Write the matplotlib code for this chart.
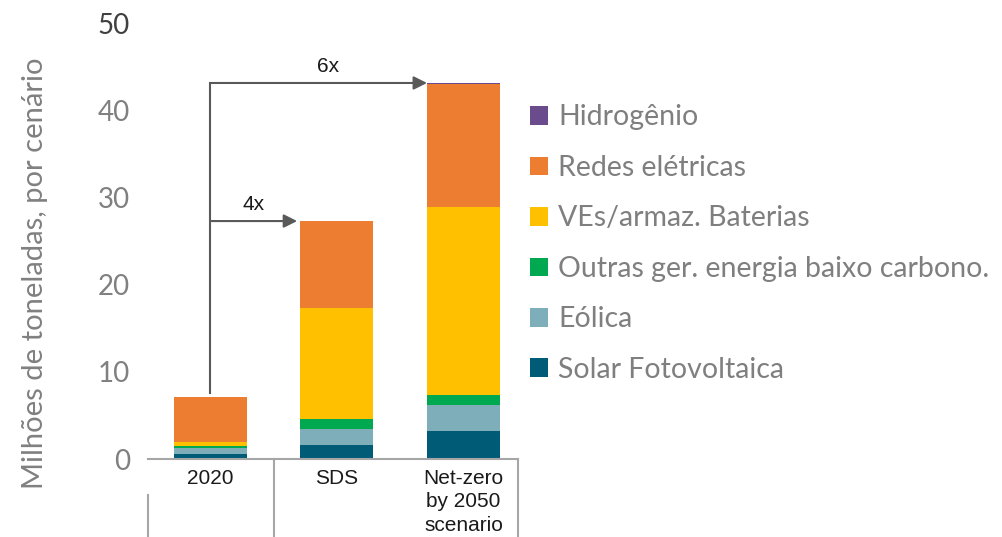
import matplotlib
matplotlib.use("Agg")
import matplotlib.pyplot as plt
from matplotlib.patches import Patch
import numpy as np

# dados (milhões de toneladas)
cenarios = ["2020", "SDS", "Net-zero\nby 2050\nscenario"]
solar = [0.6, 1.65, 3.2]
eolica = [0.65, 1.8, 3.0]
outras = [0.3, 1.2, 1.2]
ves_baterias = [0.45, 12.7, 21.6]
redes = [5.1, 10.0, 14.1]
hidrogenio = [0.0, 0.0, 0.12]

series = [
    ("Solar Fotovoltaica", solar, "#005B76"),
    ("Eólica", eolica, "#7FAEBB"),
    ("Outras ger. energia baixo carbono.", outras, "#00A94F"),
    ("VEs/armaz. Baterias", ves_baterias, "#FFC000"),
    ("Redes elétricas", redes, "#ED7D31"),
    ("Hidrogênio", hidrogenio, "#6A4C8C"),
]

fig = plt.figure(figsize=(10.03, 5.37), dpi=100)
ax = fig.add_axes([148 / 1003, 78 / 537, 370 / 1003, 435 / 537])

x = np.arange(len(cenarios))
largura = 0.576
base = np.zeros(len(cenarios))
for nome, vals, cor in series:
    ax.bar(x, vals, largura, bottom=base, color=cor, linewidth=0)
    base = base + np.array(vals)
totais = base

ax.set_xlim(-0.49, 2.43)
ax.set_ylim(0, 50)
ax.set_yticks([0, 10, 20, 30, 40, 50])
ax.set_xticks([])
for s in ["top", "right", "left"]:
    ax.spines[s].set_visible(False)
ax.spines["bottom"].set_color("#A6A6A6")
ax.spines["bottom"].set_linewidth(1.5)
ax.tick_params(axis="y", length=0, pad=13, labelsize=20, labelcolor="#808080")
for lbl in ax.get_yticklabels():
    lbl.set_fontfamily("Lato")
ax.get_yticklabels()[-1].set_color("#404040")

# rótulos das categorias e separadores
for i, c in enumerate(cenarios):
    ax.text(i, -1.1, c, ha="center", va="top", fontsize=15,
            family="Liberation Sans", color="#1a1a1a", linespacing=1.3)
for xs, y0 in [(-0.49, -4.1), (0.505, 0), (2.43, 0)]:
    ax.plot([xs, xs], [y0, -9], color="#A6A6A6", lw=1.5, clip_on=False)

# setas 4x e 6x
cinza = "#595959"
x_ini = 0.0
ax.plot([x_ini, x_ini], [totais[0] + 0.5, totais[2]], color=cinza, lw=1.5)
for j, txt, dx in [(1, "4x", 0.34), (2, "6x", 0.93)]:
    ax.annotate("", xy=(j - largura / 2 - (0.025 if j == 1 else 0), totais[j]),
                xytext=(x_ini, totais[j]),
                arrowprops=dict(arrowstyle="-|>", color=cinza, lw=1.5,
                                mutation_scale=20, shrinkA=0, shrinkB=0))
    ax.text(dx, totais[j] + 1.9, txt, ha="center", va="center", fontsize=15,
            family="Liberation Sans", color="#1a1a1a")

# eixo y
fig.text(35 / 1003, 0.492, "Milhões de toneladas, por cenário", rotation=90,
         ha="center", va="center", fontsize=21, family="Lato", color="#808080")

# legenda
handles = [Patch(facecolor=cor, edgecolor="none") for _, _, cor in series][::-1]
labels = [nome for nome, _, _ in series][::-1]
leg = fig.legend(handles, labels, loc="upper left",
                 bbox_to_anchor=(519 / 1003, 1 - 93 / 537),
                 frameon=False, handlelength=0.63, handleheight=0.63,
                 handletextpad=0.35, labelspacing=0.86, borderaxespad=0,
                 prop={"family": "Lato", "size": 20.5})
for t in leg.get_texts():
    t.set_color("#7F7F7F")

fig.savefig("out.png", dpi=100)
